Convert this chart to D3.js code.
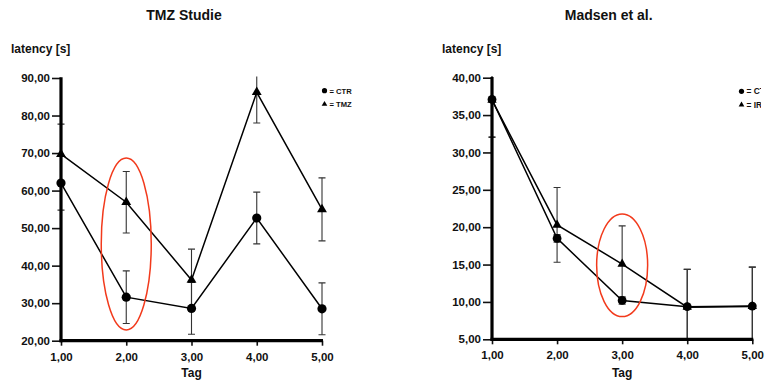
<!DOCTYPE html>
<html>
<head>
<meta charset="utf-8">
<script src="https://cdn.jsdelivr.net/npm/d3@7"></script>
<style>
  html, body { margin: 0; padding: 0; background: #fff; overflow: hidden; }
  svg { display: block; font-family: "Liberation Sans", Arial, Helvetica, sans-serif; font-weight: bold; }
</style>
</head>
<body>
<svg id="chart" width="766" height="381"></svg>
<script>
// Days of the water-maze test
const days = [1, 2, 3, 4, 5];

// Left panel: TMZ study (mean latency in seconds and error)
const tmzCtrMean = [62.0, 31.6, 28.6, 52.7, 28.5];
const tmzCtrErr  = [7.2, 7.0, 6.9, 6.9, 6.9];
const tmzTmzMean = [69.7, 56.9, 36.2, 86.2, 55.0];
const tmzTmzErr  = [8.0, 8.2, 8.2, 8.2, 8.4];
const tmzYTicks  = [20, 30, 40, 50, 60, 70, 80, 90];

// Right panel: Madsen et al. (mean latency in seconds and error)
const madCtrMean = [37.1, 18.5, 10.2, 9.36, 9.45];
const madCtrErr  = [5.0, 0.5, 0.5, 5.0, 5.2];
const madIrMean  = [37.0, 20.3, 15.07, 9.3, 9.4];
const madIrErr   = [5.0, 5.0, 5.1, 5.05, 5.25];
const madYTicks  = [5, 10, 15, 20, 25, 30, 35, 40];

const fmt = v => d3.format(".2f")(v).replace(".", ",");
const svg = d3.select("#chart");

function panel(cfg) {
  const x = d3.scaleLinear().domain([1, 5]).range([cfg.x0, cfg.x1]);
  const y = d3.scaleLinear().domain(cfg.yDomain).range([cfg.y0, cfg.y1]);
  const g = svg.append("g");

  // title and axis captions
  g.append("text").attr("x", cfg.titleX).attr("y", 20).attr("text-anchor", "middle")
    .attr("font-size", 14).attr("fill", "#111").text(cfg.title);
  g.append("text").attr("x", cfg.yLabelX).attr("y", 53)
    .attr("font-size", 12).attr("fill", "#111").text("latency [s]");
  g.append("text").attr("x", (cfg.x0 + cfg.x1) / 2).attr("y", 377).attr("text-anchor", "middle")
    .attr("font-size", 12).attr("fill", "#111").text("Tag");

  // y axis
  const ya = d3.axisLeft(y).tickValues(cfg.yTicks).tickFormat(fmt).tickSize(9).tickPadding(2);
  const yg = g.append("g").attr("transform", `translate(${cfg.x0},0)`).call(ya);
  yg.select(".domain").remove();
  yg.selectAll(".tick line").attr("stroke", "#111").attr("stroke-width", 1.6);
  yg.selectAll(".tick text").attr("font-size", 11.5).attr("fill", "#111")
    .attr("font-family", "Liberation Sans, Arial, sans-serif").attr("font-weight", "bold");

  // x axis
  const xa = d3.axisBottom(x).tickValues(days).tickFormat(fmt).tickSize(5).tickPadding(7);
  const xg = g.append("g").attr("transform", `translate(0,${cfg.y0})`).call(xa);
  xg.select(".domain").remove();
  xg.selectAll(".tick line").attr("stroke", "#111").attr("stroke-width", 1.6);
  xg.selectAll(".tick text").attr("font-size", 11.5).attr("fill", "#111")
    .attr("font-family", "Liberation Sans, Arial, sans-serif").attr("font-weight", "bold");

  // clip region for error bars
  const clipId = "clip-" + cfg.key;
  svg.append("clipPath").attr("id", clipId).append("rect")
    .attr("x", cfg.x0 - 10).attr("y", cfg.y1 - 1.5)
    .attr("width", cfg.x1 - cfg.x0 + 20).attr("height", cfg.y0 - cfg.y1 + 1.5);

  const eb = g.append("g").attr("clip-path", `url(#${clipId})`);
  cfg.series.forEach(s => {
    days.forEach((d, i) => {
      const hi = s.mean[i] + s.err[i], lo = s.mean[i] - s.err[i];
      eb.append("line").attr("x1", x(d)).attr("x2", x(d)).attr("y1", y(hi)).attr("y2", y(lo))
        .attr("stroke", "#333").attr("stroke-width", 1.1);
      [hi, lo].forEach(v => {
        eb.append("line").attr("x1", x(d) - 3.5).attr("x2", x(d) + 3.5).attr("y1", y(v)).attr("y2", y(v))
          .attr("stroke", "#333").attr("stroke-width", 1.1);
      });
    });
  });

  // axis lines
  g.append("line").attr("x1", cfg.x0).attr("x2", cfg.x0).attr("y1", cfg.y1 - 0.8).attr("y2", cfg.y0 + 1.5)
    .attr("stroke", "#000").attr("stroke-width", 3.2);
  g.append("line").attr("x1", cfg.x0 - 1.5).attr("x2", cfg.x1 + 1).attr("y1", cfg.y0).attr("y2", cfg.y0)
    .attr("stroke", "#000").attr("stroke-width", 3.2);

  // series lines and markers
  const line = d3.line().x((v, i) => x(days[i])).y(v => y(v));
  cfg.series.forEach(s => {
    g.append("path").attr("d", line(s.mean)).attr("fill", "none")
      .attr("stroke", "#000").attr("stroke-width", 1.5);
  });
  cfg.series.slice().reverse().forEach(s => {
    days.forEach((d, i) => {
      if (s.shape === "circle") {
        g.append("circle").attr("cx", x(d)).attr("cy", y(s.mean[i])).attr("r", cfg.r).attr("fill", "#000");
      } else {
        g.append("path").attr("d", d3.symbol(d3.symbolTriangle, cfg.tri)())
          .attr("transform", `translate(${x(d)},${y(s.mean[i])})`).attr("fill", "#000");
      }
    });
  });

  // legend (the right-hand one runs past the panel edge and is cut there)
  let lgParent = g;
  if (cfg.legClip) {
    const legClipId = "legclip-" + cfg.key;
    svg.append("clipPath").attr("id", legClipId).append("rect")
      .attr("x", 0).attr("y", 0).attr("width", cfg.legClip).attr("height", 381);
    lgParent = g.append("g").attr("clip-path", `url(#${legClipId})`);
  }
  const lg = lgParent.append("g").attr("transform", `translate(${cfg.legX},${cfg.legY})`);
  cfg.series.forEach((s, i) => {
    const yy = i * 13.5;
    if (s.shape === "circle") lg.append("circle").attr("cx", 0).attr("cy", yy).attr("r", 2.6).attr("fill", "#000");
    else lg.append("path").attr("d", d3.symbol(d3.symbolTriangle, 14)()).attr("transform", `translate(0,${yy})`).attr("fill", "#000");
    lg.append("text").attr("x", 5).attr("y", yy + 2.8).attr("font-size", cfg.legFont).attr("fill", "#111").text("= " + s.name);
  });

  // highlight ellipse
  g.append("ellipse").attr("cx", x(cfg.ell.day)).attr("cy", cfg.ell.cy)
    .attr("rx", cfg.ell.rx).attr("ry", cfg.ell.ry)
    .attr("fill", "none").attr("stroke", "#f23a1c").attr("stroke-width", 1.5);
}

panel({
  key: "tmz", title: "TMZ Studie", titleX: 184, yLabelX: 11,
  x0: 61, x1: 322, y0: 340.7, y1: 78, yDomain: [20, 90], yTicks: tmzYTicks,
  r: 4.6, tri: 42,
  series: [
    { name: "CTR", shape: "circle", mean: tmzCtrMean, err: tmzCtrErr },
    { name: "TMZ", shape: "triangle", mean: tmzTmzMean, err: tmzTmzErr }
  ],
  legX: 324.5, legY: 90.7, legFont: 7.6,
  ell: { day: 2, cy: 244, rx: 25, ry: 86 }
});

panel({
  key: "mad", title: "Madsen et al.", titleX: 608.7, yLabelX: 442,
  x0: 492, x1: 752.3, y0: 339.3, y1: 77.7, yDomain: [5, 40], yTicks: madYTicks,
  r: 4.4, tri: 38,
  series: [
    { name: "CTR", shape: "circle", mean: madCtrMean, err: madCtrErr },
    { name: "IR", shape: "triangle", mean: madIrMean, err: madIrErr }
  ],
  legX: 741.5, legY: 91.3, legFont: 8.4, legClip: 761,
  ell: { day: 3, cy: 265.3, rx: 25.5, ry: 51.3 }
});
</script>
</body>
</html>
